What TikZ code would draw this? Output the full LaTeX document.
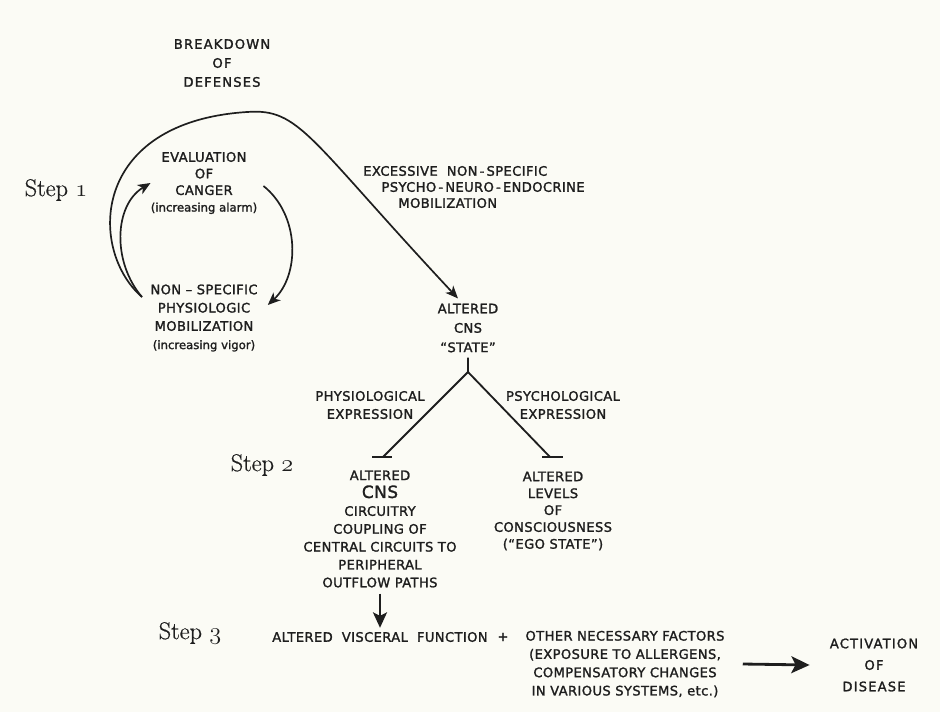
\documentclass[tikz,border=0pt]{standalone}
\usepackage{fontspec}
\usepackage{tikz}
\usetikzlibrary{arrows.meta}
\usetikzlibrary{positioning}
\usetikzlibrary{calc}
\newfontfamily\letteringfont{DejaVu Sans}[LetterSpace=3, FakeBold=1.6, Ligatures=TeX]
\newfontfamily\stepfont{Latin Modern Roman}[FakeBold=0.6]
\definecolor{paper}{RGB}{251,251,245}
\definecolor{ink}{RGB}{30,30,30}
\newcommand{\lc}[1]{{\fontsize{8.3}{11}\selectfont\addfontfeature{LetterSpace=0}#1}}
\newcommand{\wide}{\addfontfeature{LetterSpace=9}}
\tikzset{
  lettering/.style={font={\letteringfont\fontsize{9.3}{#1}\selectfont},
    align=center, inner sep=0pt, text=ink},
  lettering/.default=12.8,
  steplabel/.style={font={\stepfont\fontsize{17.28}{20}\selectfont}, inner sep=0pt, text=ink},
  curvearrow/.style={draw=ink, line width=1.2pt,
    -{Stealth[length=9pt,width=7.5pt,inset=2.5pt]}},
  forkline/.style={draw=ink, line width=1.3pt},
  straightarrow/.style={draw=ink, line width=#1,
    -{Stealth[length=11pt,width=10pt,inset=2.5pt]}},
}
\begin{document}
\begin{tikzpicture}[x=0.025cm, y=-0.025cm]
  \fill[paper] (0,0) rectangle (940,712);
  \useasboundingbox (0,0) rectangle (940,712);

  \node[lettering=13.5] (breakdown) at (222,63) {\wide BREAKDOWN\\\wide OF\\\wide DEFENSES};
  \node[steplabel] (step1) at (56,190) {Step $\mathnormal{1}$};
  \node[lettering=11.8] (eval) at (204,183)
    {EVALUATION\\OF\\CANGER\\\lc{(increasing alarm)}};
  \node[lettering=13] (nonspec) at (204,318)
    {NON -- SPECIFIC\\PHYSIOLOGIC\\MOBILIZATION\\\lc{(increasing vigor)}};
  \coordinate (foot) at (142,297);

  \node[lettering=11.4, anchor=west, align=left] (excess) at (363,187)
    {EXCESSIVE\ \ NON\,-\,SPECIFIC\\
     \hspace*{13pt}PSYCHO\,-\,NEURO\,-\,ENDOCRINE\\
     \hspace*{25pt}MOBILIZATION};
  \node[lettering=13.8] (state) at (468,328) {ALTERED\\CNS\\``STATE''};

  \coordinate (fork) at (468,372);
  \coordinate (leftfoot) at (383,457);
  \coordinate (rightfoot) at (550,457);
  \node[lettering] (physio) at (370,405) {PHYSIOLOGICAL\\EXPRESSION};
  \node[lettering] (psycho) at (563,405) {PSYCHOLOGICAL\\EXPRESSION};

  \node[steplabel] (step2) at (262,465) {Step $\mathnormal{2}$};
  \node[lettering=12.7] (circuit) at (380,529)
    {ALTERED\\{\fontsize{12}{14}\selectfont CNS}\\CIRCUITRY\\COUPLING OF\\
     CENTRAL CIRCUITS TO\\PERIPHERAL\\OUTFLOW PATHS};
  \node[lettering=12] (levels) at (553,511)
    {ALTERED\\LEVELS\\OF\\CONSCIOUSNESS\\(``EGO STATE'')};

  \node[steplabel] (step3) at (190,633) {Step $\mathnormal{3}$};
  \node[lettering, anchor=west] (visceral) at (272,637) {ALTERED\ \ VISCERAL\ \ FUNCTION};
  \node[lettering] (plus) at (503,637) {+};
  \node[lettering=13] (factors) at (625,664)
    {OTHER NECESSARY FACTORS\\(EXPOSURE TO ALLERGENS,\\COMPENSATORY CHANGES\\
     IN VARIOUS SYSTEMS, etc.)};
  \node[lettering=15.3] (activation) at (874,665) {\wide ACTIVATION\\\wide OF\\\wide DISEASE};

  \draw[curvearrow] (foot) .. controls (88,250) and (90,122) .. (247,112)
    .. controls (300,108) and (308,138) .. ($(state.north)+(-10,-5)$);
  \draw[curvearrow] (foot) .. controls (112,262) and (114,205) .. (eval.west);
  \draw[curvearrow] ($(eval.east)+(6,3)$) .. controls (300,215) and (300,275)
    .. ($(nonspec.east)+(10,-13)$);

  \draw[forkline] ($(state.south)+(0,5)$) -- (fork) -- (leftfoot);
  \draw[forkline] (fork) -- (rightfoot);
  \draw[forkline] ($(leftfoot)+(-11,0)$) -- ($(leftfoot)+(9,0)$);
  \draw[forkline] ($(rightfoot)+(-8,0)$) -- ($(rightfoot)+(13,0)$);

  \draw[straightarrow=1.4pt] ($(circuit.south)+(0,6)$) -- ($(visceral.north -| circuit.south)+(0,-4)$);
  \draw[straightarrow=2pt, -{Stealth[length=13pt,width=12pt,inset=3pt]}]
    ($(factors.east)+(18,0)$) -- ($(activation.west)+(-20,0)$);
\end{tikzpicture}
\end{document}
